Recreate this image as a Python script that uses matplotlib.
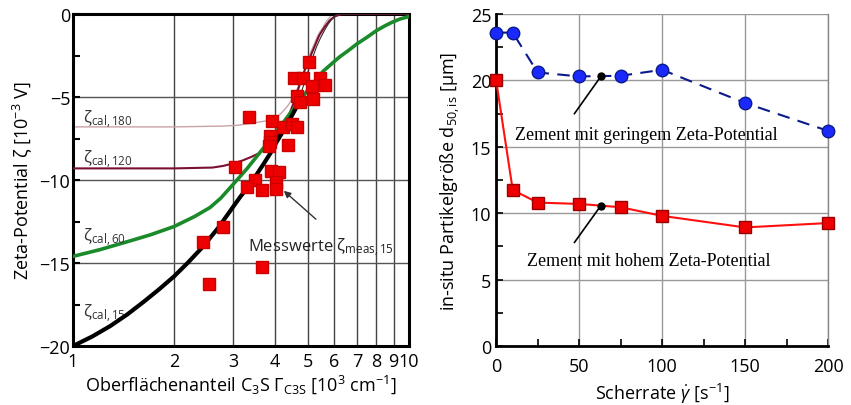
import numpy as np
import matplotlib
matplotlib.use("Agg")
import matplotlib.pyplot as plt
from matplotlib.ticker import FixedLocator, MultipleLocator

plt.rcParams['font.family'] = ['Open Sans', 'DejaVu Sans']
plt.rcParams['mathtext.fontset'] = 'custom'
plt.rcParams['mathtext.rm'] = 'Open Sans'
plt.rcParams['mathtext.it'] = 'Open Sans:italic'

# LEFT: zeta potential vs. C3S surface fraction
meas_x = [5.04, 4.55, 4.84, 5.43, 5.62, 5.14, 4.64, 5.18, 4.74, 3.34,
          3.91, 4.22, 4.48, 4.64, 3.86, 3.86, 4.36, 3.83, 3.03, 3.88,
          4.10, 3.48, 3.30, 3.65, 4.02, 4.02, 2.79, 2.44, 2.54, 3.65]
meas_y = [-2.89, -3.86, -3.86, -3.86, -4.28, -4.34, -4.94, -5.12, -5.30, -6.2,
          -6.45, -6.81, -6.63, -6.81, -7.35, -7.71, -7.89, -7.95, -9.22, -9.46,
          -9.52, -10.0, -10.42, -10.6, -10.12, -10.54, -12.83, -13.73, -16.27, -15.24]

cal180_x = [1, 2, 2.8, 3.1, 3.36, 3.6, 3.86, 4.05, 4.2, 4.35, 4.5, 4.65, 4.8, 4.95,
            5.07, 5.2, 5.3, 5.42, 5.55, 5.65, 5.75, 5.85, 5.95, 10]
cal180_y = [-6.8, -6.8, -6.75, -6.7, -6.6, -6.5, -6.4, -6.2, -5.9, -5.55, -5.1, -4.5, -3.8, -3.05,
            -2.4, -1.9, -1.5, -1.1, -0.8, -0.5, -0.3, -0.12, 0, 0]

cal120_x = [1, 2, 2.6, 2.8, 3.0, 3.2, 3.4, 3.55, 3.7, 3.85, 4.0, 4.15, 4.3, 4.45, 4.6,
            4.72, 4.85, 5.0, 5.1, 5.25, 5.4, 5.6, 5.8, 6.0, 6.3, 10]
cal120_y = [-9.3, -9.3, -9.25, -9.15, -9.0, -8.82, -8.6, -8.42, -8.2, -7.9, -7.5, -7.05, -6.5, -5.8, -5.0,
            -4.3, -3.6, -2.9, -2.5, -1.9, -1.3, -0.8, -0.4, -0.15, 0, 0]

cal60_x = [1, 1.2, 1.46, 1.7, 2.0, 2.3, 2.56, 2.75, 3.0, 3.3, 3.68, 4.2, 4.74,
           5.1, 5.55, 6.2, 6.6, 7.0, 7.5, 8.0, 8.5, 8.9, 9.4, 10]
cal60_y = [-14.6, -14.2, -13.7, -13.3, -12.8, -12.2, -11.65, -11.1, -10.25, -9.3, -8.1, -6.6, -5.2,
           -4.35, -3.45, -2.6, -2.2, -1.8, -1.4, -1.0, -0.7, -0.5, -0.3, -0.15]

cal15_x = [1, 1.14, 1.29, 1.45, 1.62, 1.8, 2.0, 2.2, 2.44, 2.7, 3.0, 3.15, 3.3,
           3.5, 3.7, 3.87, 4.04, 4.2, 4.4, 4.6]
cal15_y = [-20, -19.43, -18.8, -18.1, -17.35, -16.6, -15.8, -14.97, -14.0, -12.9, -11.6, -11.0, -10.48,
           -9.74, -9.0, -8.38, -7.7, -7.13, -6.42, -5.7]
cal15_tail_x = [4.6, 4.8, 5.0, 5.15, 5.3, 5.45, 5.6, 5.75, 5.9, 6.1, 10]
cal15_tail_y = [-5.7, -4.6, -3.5, -2.7, -2.0, -1.45, -1.0, -0.6, -0.3, 0, 0]

# RIGHT: particle size vs. shear rate
shear = [0, 10, 25, 50, 75, 100, 150, 200]
d50_low = [23.6, 23.6, 20.6, 20.3, 20.35, 20.8, 18.3, 16.2]
d50_high = [20.0, 11.75, 10.8, 10.7, 10.45, 9.8, 8.93, 9.26]

fig = plt.figure(figsize=(8.51, 4.06), dpi=100)
ax1 = fig.add_axes([0.0858, 0.1453, 0.3948, 0.8177])
ax2 = fig.add_axes([0.583, 0.1453, 0.390, 0.8177])

# ---- left plot
ax1.set_xscale('log')
ax1.set_xlim(1, 10)
ax1.set_ylim(-20, 0)
for v in [2, 3, 4, 5, 6, 7, 8, 9]:
    ax1.axvline(v, color='#444444', lw=1.0, zorder=1)
for v in [-5, -10, -15]:
    ax1.axhline(v, color='#555555', lw=1.0, zorder=1)

ax1.plot(cal180_x, cal180_y, color='#c9a3a8', lw=1.0, zorder=2)
ax1.plot(cal120_x, cal120_y, color='#7a1030', lw=1.5, zorder=3)
ax1.plot(cal60_x, cal60_y, color='#1a8a2a', lw=2.6, zorder=3, solid_joinstyle='round')
ax1.plot(cal15_x, cal15_y, color='black', lw=3.0, zorder=4, solid_joinstyle='round')
ax1.plot(cal15_tail_x, cal15_tail_y, color='#3a2a2a', lw=0.8, zorder=3)
ax1.plot(meas_x, meas_y, 's', color='#ee0000', ms=8, mec='#cc0000', zorder=5)

ax1.xaxis.set_major_locator(FixedLocator([1, 2, 3, 4, 5, 6, 7, 8, 9, 10]))
ax1.xaxis.set_minor_locator(FixedLocator([]))
ax1.set_xticklabels(['1', '2', '3', '4', '5', '6', '7', '8', '9', '10'])
ax1.yaxis.set_major_locator(MultipleLocator(5))
ax1.yaxis.set_minor_locator(MultipleLocator(2.5))
ax1.tick_params(axis='both', which='major', direction='in', length=5, width=1.5, labelsize=13, pad=2)
ax1.tick_params(axis='y', which='minor', direction='in', length=5, width=1.5)
ax1.tick_params(axis='x', which='major', length=0, pad=4)
for s in ax1.spines.values():
    s.set_linewidth(2.2)

ax1.set_ylabel(r'Zeta-Potential ζ [10$^{-3}$ V]', fontsize=13, labelpad=4)
ax1.set_xlabel(r'Oberflächenanteil C$_3$S Γ$_{\mathrm{C3S}}$ [10$^3$ cm$^{-1}$]', fontsize=13, labelpad=2)

lbl = dict(fontsize=12, color='#333333', va='center', ha='left')
ax1.text(1.07, -6.3, r'ζ$_{\mathrm{cal,180}}$', **lbl)
ax1.text(1.07, -8.7, r'ζ$_{\mathrm{cal,120}}$', **lbl)
ax1.text(1.07, -13.4, r'ζ$_{\mathrm{cal,60}}$', **lbl)
ax1.text(1.07, -18.0, r'ζ$_{\mathrm{cal,15}}$', **lbl)
ax1.text(3.32, -14.0, r'Messwerte ζ$_{\mathrm{meas,15}}$', fontsize=12, color='#222222',
         va='center', ha='left')
ax1.annotate('', xy=(4.18, -10.54), xytext=(5.36, -12.47),
             arrowprops=dict(arrowstyle='-|>', color='#333333', lw=1.0, mutation_scale=10))

# ---- right plot
ax2.set_xlim(0, 200)
ax2.set_ylim(0, 25)
ax2.grid(True, which='major', color='#999999', lw=1.0)
ax2.set_axisbelow(True)
ax2.plot(shear, d50_low, '--o', color='#0a1a8a', lw=1.5, dashes=(6, 4),
         mfc='#1a2aff', mec='#0a1a8a', ms=9, zorder=4, clip_on=False)
ax2.plot(shear, d50_high, '-s', color='#ff1010', lw=1.5,
         mfc='#ee0000', mec='#990000', ms=8, zorder=4, clip_on=False)

ax2.xaxis.set_major_locator(MultipleLocator(50))
ax2.xaxis.set_minor_locator(MultipleLocator(25))
ax2.yaxis.set_major_locator(MultipleLocator(5))
ax2.yaxis.set_minor_locator(MultipleLocator(2.5))
ax2.tick_params(axis='both', which='both', direction='in', length=5, width=1.2,
                labelsize=13, top=False, right=False)
ax2.tick_params(axis='x', pad=8)
ax2.spines['top'].set_visible(False)
ax2.spines['right'].set_color('#888888')
ax2.spines['right'].set_linewidth(1.0)
ax2.spines['left'].set_linewidth(2.0)
ax2.spines['bottom'].set_linewidth(2.0)

ax2.set_ylabel(r'in-situ Partikelgröße d$_{50,\mathrm{is}}$ [µm]', fontsize=13, labelpad=6)
ax2.set_xlabel(r'Scherrate $\dot{\gamma}$ [s$^{-1}$]', fontsize=13, labelpad=4)

serif = ['Liberation Serif', 'DejaVu Serif']
ax2.plot([63.1], [20.3], 'o', color='black', ms=5, zorder=5)
ax2.plot([63.1, 47.2], [20.3, 17.5], color='black', lw=1.2, zorder=5)
ax2.text(11.4, 15.96, 'Zement mit geringem Zeta-Potential', family=serif,
         fontsize=13, va='center', ha='left')
ax2.plot([63.1], [10.57], 'o', color='black', ms=5, zorder=5)
ax2.plot([63.1, 47.2], [10.57, 7.8], color='black', lw=1.2, zorder=5)
ax2.text(18.5, 6.42, 'Zement mit hohem Zeta-Potential', family=serif,
         fontsize=13, va='center', ha='left')

fig.savefig('out.png', dpi=100)
